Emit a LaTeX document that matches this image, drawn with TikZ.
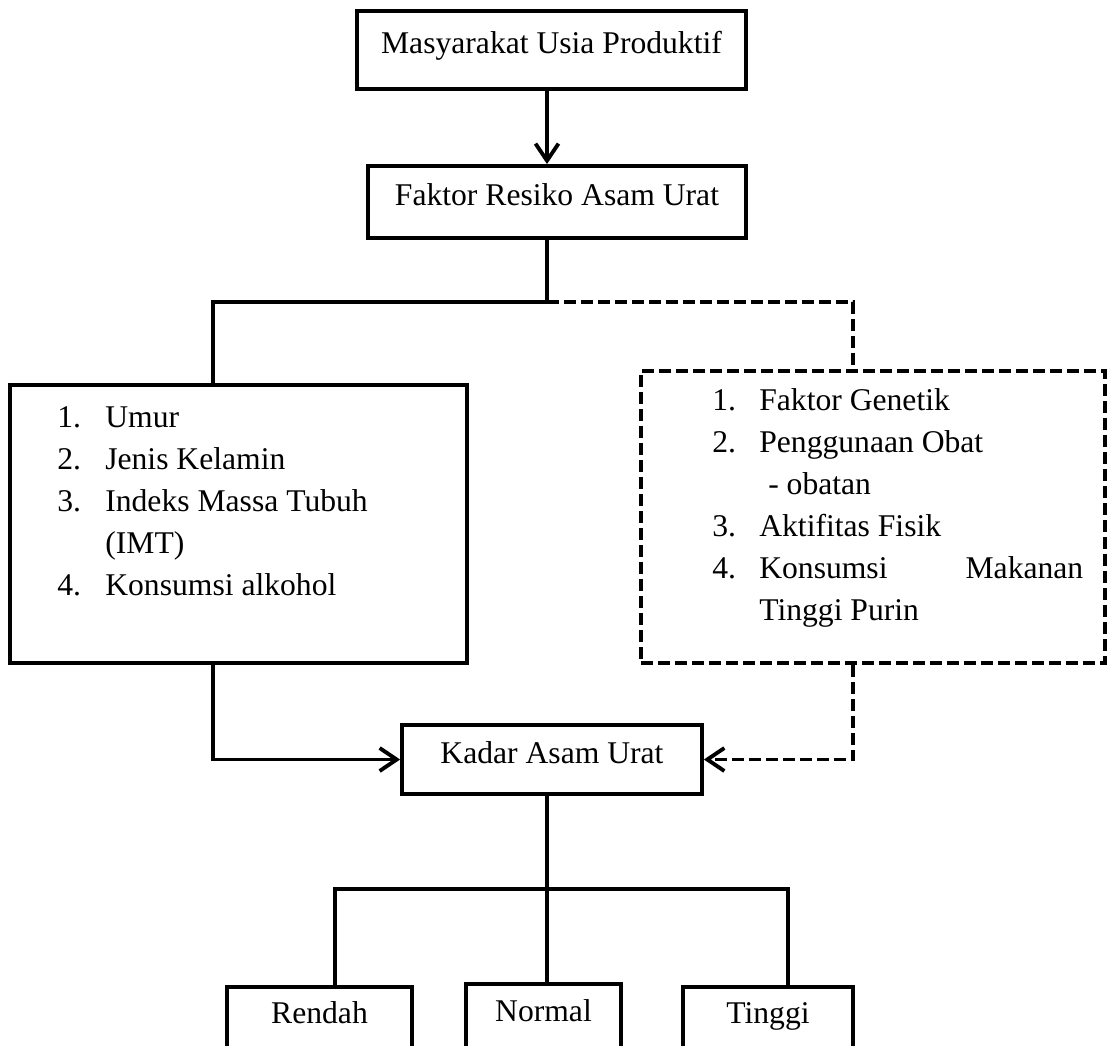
\documentclass[tikz,border=0pt]{standalone}
\usepackage{fontspec}
\setmainfont{Liberation Serif}
\usetikzlibrary{arrows.meta}

\tikzset{
  kotak/.style={draw, line width=2.2pt, inner sep=0pt, text height=0.7em, text depth=0.25em},
  kotakputus/.style={kotak, dash pattern=on 0.24cm off 0.1cm},
  garis/.style={line width=2.2pt},
  putus/.style={garis, dash pattern=on 0.24cm off 0.1cm},
  panah/.style={-{Straight Barb[length=0.34cm,width=0.46cm]}},
  daftar/.style={anchor=base west, inner sep=0pt, align=left}
}

\begin{document}
\begin{tikzpicture}[x=0.02cm, y=-0.02cm, font=\fontsize{18}{24}\selectfont]
	\useasboundingbox (0,0) rectangle (1107,1046);
	\clip (0,0) rectangle (1107,1046);

	% kotak utama
	\node[kotak, minimum width=7.78cm, minimum height=1.56cm] (usia) at (551.5,50) {Masyarakat Usia Produktif};
	\node[kotak, minimum width=7.56cm, minimum height=1.44cm] (resiko) at (557,202) {Faktor Resiko Asam Urat};
	\node[kotak, minimum width=9.14cm, minimum height=5.56cm] (diteliti) at (238.5,524) {};
	\node[kotakputus, minimum width=9.28cm, minimum height=5.84cm] (tidak) at (873,517) {};
	\node[kotak, minimum width=6cm, minimum height=1.38cm] (kadar) at (552,759.5) {Kadar Asam Urat};

	% isi daftar
	\node[daftar] (listkiri) at (57,427) {\begin{tabular}[t]{@{}p{0.96cm}@{}l@{}}
		1. & Umur\\
		2. & Jenis Kelamin\\
		3. & Indeks Massa Tubuh\\
		   & (IMT)\\
		4. & Konsumsi alkohol
	\end{tabular}};
	\node[daftar] (listkanan) at (712,410) {\begin{tabular}[t]{@{}p{0.94cm}@{}l@{}}
		1. & Faktor Genetik\\
		2. & Penggunaan Obat\\
		   & \hspace{0.18cm}- obatan\\
		3. & Aktifitas Fisik\\
		4. & \makebox[6.48cm][l]{Konsumsi\hfill Makanan}\\
		   & Tinggi Purin
	\end{tabular}};

	% kategori
	\node[kotak, minimum width=3.7cm, minimum height=1.32cm] (rendah) at (319.5,1020) {Rendah};
	\node[kotak, minimum width=3.1cm, minimum height=1.36cm] (normal) at (543.5,1018) {Normal};
	\node[kotak, minimum width=3.4cm, minimum height=1.32cm] (tinggi) at (768,1020) {Tinggi};

	% titik cabang
	\coordinate (cabang) at (547,302);
	\coordinate (kiri) at (213,302);
	\coordinate (kanan) at (853,302);
	\coordinate (cabangbawah) at (547,889);
	\coordinate (bawahkiri) at (335,889);
	\coordinate (bawahkanan) at (788,889);

	% garis penghubung
	\draw[garis, panah] (usia.south -| cabang) -- (resiko.north -| cabang);
	\draw[garis] (resiko.south -| cabang) -- (cabang) -- (kiri) -- (kiri |- diteliti.north);
	\draw[putus] (cabang) -- (kanan) -- (kanan |- tidak.north);
	\draw[garis, panah] (kiri |- diteliti.south) |- (kadar.west);
	\draw[putus, panah] (kanan |- tidak.south) |- (kadar.east);
	\draw[garis] (kadar.south -| cabangbawah) -- (normal.north -| cabangbawah);
	\draw[garis] (bawahkiri |- rendah.north) -- (bawahkiri) -- (bawahkanan) -- (bawahkanan |- tinggi.north);
\end{tikzpicture}
\end{document}
